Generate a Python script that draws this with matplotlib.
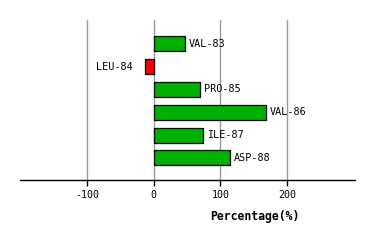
import matplotlib
matplotlib.use("Agg")
import matplotlib.pyplot as plt

residues = ["VAL-83", "LEU-84", "PRO-85", "VAL-86", "ILE-87", "ASP-88"]
values = [47, -13, 70, 168, 74, 114]
xticks = [-100, 0, 100, 200]

fig = plt.figure(figsize=(3.74, 2.40), dpi=100)
ax = fig.add_axes([20/374, 1-180/240, 335/374, 160/240])

colors = ["#00b000" if v >= 0 else "#ff0000" for v in values]
ypos = list(range(len(values)))
ax.barh(ypos, values, height=0.66, color=colors, edgecolor="black", linewidth=0.9, zorder=3)

for y, v, name in zip(ypos, values, residues):
    if v >= 0:
        ax.text(v + 6, y, name, ha="left", va="center", family="DejaVu Sans Mono", fontsize=7.3, zorder=4)
    else:
        ax.text(v - 18, y, name, ha="right", va="center", family="DejaVu Sans Mono", fontsize=7.3, zorder=4)

ax.set_xlim(-201, 302)
ax.set_ylim(5.97, -1.04)
ax.set_xticks(xticks)
ax.set_xticklabels([str(t) for t in xticks], family="DejaVu Sans Mono", fontsize=7.2)
ax.set_yticks([])
for t in xticks:
    ax.axvline(t, color="#999999", linewidth=1, zorder=1)
for s in ["top", "right", "left"]:
    ax.spines[s].set_visible(False)
ax.spines["bottom"].set_linewidth(1)
ax.tick_params(axis="x", length=4, width=1, pad=3)
ax.set_xlabel("Percentage(%)", family="DejaVu Sans Mono", fontsize=8.3, fontweight="bold")
ax.xaxis.set_label_coords(0.70, -0.19)

fig.savefig("out.png", dpi=100)
